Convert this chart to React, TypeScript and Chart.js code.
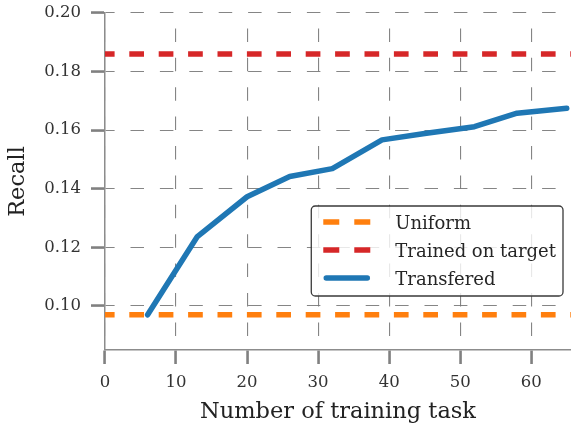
import React, { useEffect, useRef } from "react";
import { Chart, registerables } from "chart.js";

Chart.register(...registerables);

// ---- data ----
const taskCounts = [6, 13, 20, 26, 32, 39, 45, 52, 58, 65];
const transferedRecall = [0.097, 0.1237, 0.1373, 0.1442, 0.1469, 0.1567, 0.1589, 0.1612, 0.1658, 0.1675];
const uniformRecall = 0.097;
const trainedOnTargetRecall = 0.186;
const xRange = [0, 65.6];
const yRange = [0.085, 0.2];
const xTickStep = 10;
const yTickStep = 0.02;
const seriesLabels = ["Uniform", "Trained on target", "Transfered"];
const xTitle = "Number of training task";
const yTitle = "Recall";

const SERIF = '"DejaVu Serif", serif';

const legendPlugin = {
  id: "boxLegend",
  afterDraw(chart: any) {
    const { ctx, chartArea } = chart;
    const ds = chart.data.datasets;
    ctx.save();
    ctx.font = `18px ${SERIF}`;
    const textW = Math.max(...ds.map((d: any) => ctx.measureText(d.label).width));
    const w = 84 + textW + 7;
    const h = 90;
    const right = chartArea.right - 8;
    const bottom = chartArea.bottom - 54;
    const left = right - w;
    const top = bottom - h;
    const r = 4;
    ctx.beginPath();
    ctx.moveTo(left + r, top);
    ctx.lineTo(left + w - r, top);
    ctx.arcTo(left + w, top, left + w, top + r, r);
    ctx.lineTo(left + w, top + h - r);
    ctx.arcTo(left + w, top + h, left + w - r, top + h, r);
    ctx.lineTo(left + r, top + h);
    ctx.arcTo(left, top + h, left, top + h - r, r);
    ctx.lineTo(left, top + r);
    ctx.arcTo(left, top, left + r, top, r);
    ctx.closePath();
    ctx.fillStyle = "rgba(255,255,255,0.82)";
    ctx.fill();
    ctx.strokeStyle = "#3a3a3a";
    ctx.lineWidth = 1.3;
    ctx.stroke();
    ds.forEach((d: any, i: number) => {
      const cy = top + 16 + 28 * i;
      ctx.beginPath();
      ctx.strokeStyle = d.borderColor;
      ctx.lineWidth = d.borderWidth;
      const round = d.borderCapStyle === "round";
      ctx.lineCap = round ? "round" : "butt";
      ctx.setLineDash(d.borderDash ? [16, 15] : []);
      ctx.lineDashOffset = 0;
      ctx.moveTo(left + 12 + (round ? 3 : 0), cy);
      ctx.lineTo(left + 59 - (round ? 3 : 0), cy);
      ctx.stroke();
      ctx.setLineDash([]);
      ctx.fillStyle = "#262626";
      ctx.textBaseline = "alphabetic";
      ctx.textAlign = "left";
      ctx.fillText(d.label, left + 84, cy + 6.8);
    });
    ctx.restore();
  },
};

export default function App() {
  const ref = useRef<HTMLCanvasElement | null>(null);
  useEffect(() => {
    if (!ref.current) return;
    const hline = (v: number) => xRange.map((x) => ({ x, y: v }));
    const chart = new Chart(ref.current, {
      type: "line",
      data: {
        datasets: [
          {
            label: seriesLabels[0],
            data: hline(uniformRecall),
            borderColor: "#ff7f0e",
            borderWidth: 5.5,
            borderDash: [14.7, 14.7],
            borderDashOffset: 5.1,
            pointRadius: 0,
            order: 2,
          },
          {
            label: seriesLabels[1],
            data: hline(trainedOnTargetRecall),
            borderColor: "#d62728",
            borderWidth: 5.5,
            borderDash: [14.7, 14.7],
            borderDashOffset: 5.1,
            pointRadius: 0,
            order: 1,
          },
          {
            label: seriesLabels[2],
            data: taskCounts.map((x, i) => ({ x, y: transferedRecall[i] })),
            borderColor: "#1f77b4",
            borderWidth: 5.5,
            borderCapStyle: "round",
            borderJoinStyle: "round",
            pointRadius: 0,
            order: 0,
          },
        ] as any,
      },
      options: {
        responsive: false,
        animation: false,
        devicePixelRatio: 1,
        layout: { padding: { top: 13, left: 0, right: 0, bottom: 0 } },
        plugins: { legend: { display: false }, tooltip: { enabled: false } },
        scales: {
          x: {
            type: "linear",
            min: xRange[0],
            max: xRange[1],
            ticks: {
              stepSize: xTickStep,
              includeBounds: false,
              padding: 9,
              maxRotation: 0,
              color: "#333",
              font: { family: SERIF, size: 16.5 },
              callback: (v: any) => String(v),
            },
            grid: {
              color: "rgba(120,120,120,0.9)",
              lineWidth: 1.1,
              tickLength: 14,
              tickWidth: 2.6,
              tickColor: "#808080",
            },
            border: { display: true, color: "#8c8c8c", width: 1.5, dash: [13.5, 15.9], dashOffset: 14 },
            title: {
              display: true,
              text: xTitle,
              color: "#222",
              font: { family: SERIF, size: 22.5 },
              padding: { top: 0, bottom: 0 },
            },
            afterFit: (s: any) => {
              s.height = 76;
              s.paddingLeft = 0;
              s.paddingRight = 0;
            },
          } as any,
          y: {
            type: "linear",
            min: yRange[0],
            max: yRange[1],
            ticks: {
              stepSize: yTickStep,
              includeBounds: false,
              padding: 10,
              color: "#333",
              font: { family: SERIF, size: 16.5 },
              callback: (v: any) => Number(v).toFixed(2),
            },
            grid: {
              color: "rgba(120,120,120,0.9)",
              lineWidth: 1.1,
              tickLength: 14,
              tickWidth: 2.6,
              tickColor: "#808080",
            },
            border: { display: true, color: "#8c8c8c", width: 1.5, dash: [13.5, 15.9], dashOffset: 4.4 },
            title: {
              display: true,
              text: yTitle,
              color: "#222",
              font: { family: SERIF, size: 22.5 },
              padding: { top: 5, bottom: 0 },
            },
            afterFit: (s: any) => {
              s.width = 105;
              s.paddingTop = 0;
              s.paddingBottom = 0;
            },
          } as any,
        },
      },
      plugins: [legendPlugin],
    });
    return () => chart.destroy();
  }, []);
  return (
    <div style={{ position: "fixed", left: 0, top: 0, width: 571, height: 426, overflow: "hidden", background: "#fff" }}>
      <canvas ref={ref} width={571} height={426} style={{ display: "block" }} />
    </div>
  );
}
